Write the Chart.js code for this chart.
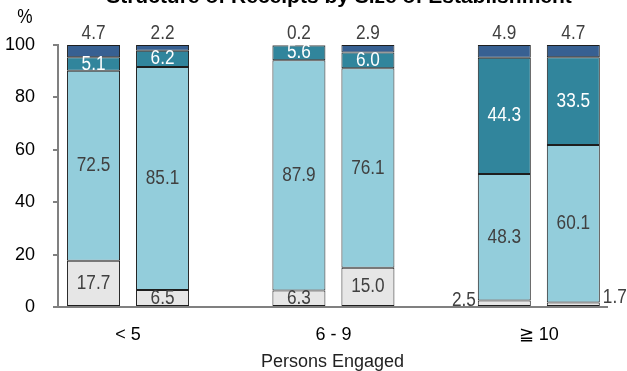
<!DOCTYPE html>
<html>
<head>
<meta charset="utf-8">
<script src="https://cdn.jsdelivr.net/npm/chart.js@4.4.0/dist/chart.umd.min.js"></script>
<style>
html, body { margin: 0; padding: 0; background: #fff; }
</style>
</head>
<body>
<canvas id="myChart" width="627" height="371"></canvas>
<script>
// values, A = left bar of each group, B = right bar
const groups = ['< 5', '6 - 9', '\u2267 10'];
const greyA = [17.7, 6.3, 2.5];
const greyB = [6.5, 15.0, 1.7];
const lightA = [72.5, 87.9, 48.3];
const lightB = [85.1, 76.1, 60.1];
const tealA = [5.1, 5.6, 44.3];
const tealB = [6.2, 6.0, 33.5];
const navyA = [4.7, 0.2, 4.9];
const navyB = [2.2, 2.9, 4.7];
const yTicks = [0, 20, 40, 60, 80, 100];

const sans = "'Liberation Sans', Arial, sans-serif";

const parts = [
    {name: 'grey', a: greyA, b: greyB, color: '#e6e6e6'},
    {name: 'light', a: lightA, b: lightB, color: '#93cddb'},
    {name: 'teal', a: tealA, b: tealB, color: '#31859c'},
    {name: 'navy', a: navyA, b: navyB, color: '#376092'}
];

var datasets = [];
parts.forEach(p => {
    ['A', 'B'].forEach(side => {
        var vals = side == 'A' ? p.a : p.b;
        datasets.push({
            label: p.name + side,
            part: p.name,
            side: side,
            stack: side,
            data: vals.map((v, i) => ({x: i, y: v})),
            backgroundColor: p.color,
            borderColor: '#1e1e1e',
            borderWidth: 1,
            borderSkipped: false
        });
    });
});

// narrow-looking text (no condensed font installed)
function narrowText(ctx, txt, x, y, align) {
    ctx.save();
    ctx.translate(x, y);
    ctx.scale(0.86, 1);
    ctx.textAlign = align;
    ctx.fillText(txt, 0, 0);
    ctx.restore();
}

// value labels + title + "%"
const labelPlugin = {
    id: 'labels',
    afterDatasetsDraw(chart) {
        const ctx = chart.ctx;
        ctx.save();
        ctx.font = '20px ' + sans;
        ctx.textBaseline = 'middle';
        chart.data.datasets.forEach((ds, di) => {
            const meta = chart.getDatasetMeta(di);
            meta.data.forEach((bar, i) => {
                const v = ds.data[i].y.toFixed(1);
                const p = bar.getProps(['x', 'y', 'base', 'width'], true);
                ctx.fillStyle = ds.part == 'teal' ? '#ffffff' : '#404040';
                if (ds.part == 'navy') {
                    narrowText(ctx, v, p.x, p.y - 12, 'center');
                } else if (ds.part == 'grey' && i == 2) {
                    if (ds.side == 'A') {
                        narrowText(ctx, v, p.x - p.width / 2 - 2, p.y, 'right');
                    } else {
                        narrowText(ctx, v, p.x + p.width / 2 + 3, p.y - 5, 'left');
                    }
                } else {
                    narrowText(ctx, v, p.x, (p.y + p.base) / 2, 'center');
                }
            });
        });
        ctx.fillStyle = '#000';
        ctx.textAlign = 'center';
        ctx.textBaseline = 'alphabetic';
        ctx.font = 'bold 21px ' + sans;
        ctx.fillText('Structure of Receipts by Size of Establishment', 339, 3);
        ctx.font = '20px ' + sans;
        ctx.textBaseline = 'middle';
        narrowText(ctx, '%', 25, 17, 'center');
        ctx.restore();
    }
};

new Chart(document.getElementById('myChart'), {
    type: 'bar',
    data: {datasets: datasets},
    options: {
        responsive: false,
        animation: false,
        categoryPercentage: 0.672,
        barPercentage: 0.768,
        layout: {padding: {top: 45, right: 20, left: 0, bottom: 0}},
        plugins: {legend: {display: false}, tooltip: {enabled: false}},
        scales: {
            x: {
                type: 'linear',
                min: -0.341,
                max: 2.332,
                offset: false,
                afterBuildTicks: s => { s.ticks = groups.map((g, i) => ({value: i})); },
                afterFit: s => { s.height = 64; },
                grid: {display: false, drawTicks: false},
                border: {color: '#808080', width: 2},
                ticks: {
                    color: '#000',
                    font: {size: 18, family: sans},
                    padding: 17,
                    maxRotation: 0,
                    callback: v => groups[v]
                },
                title: {
                    display: true,
                    text: 'Persons Engaged',
                    color: '#222',
                    font: {size: 18, family: sans},
                    padding: {top: 0, bottom: -2}
                }
            },
            y: {
                stacked: true,
                min: 0,
                max: 100,
                afterBuildTicks: s => { s.ticks = yTicks.map(v => ({value: v})); },
                afterFit: s => { s.width = 58; },
                grid: {drawOnChartArea: false, tickLength: 5, color: '#808080', lineWidth: 2},
                border: {color: '#808080', width: 2},
                ticks: {
                    color: '#000',
                    font: {size: 18, family: sans},
                    padding: 18
                }
            }
        }
    },
    plugins: [labelPlugin]
});
</script>
</body>
</html>
